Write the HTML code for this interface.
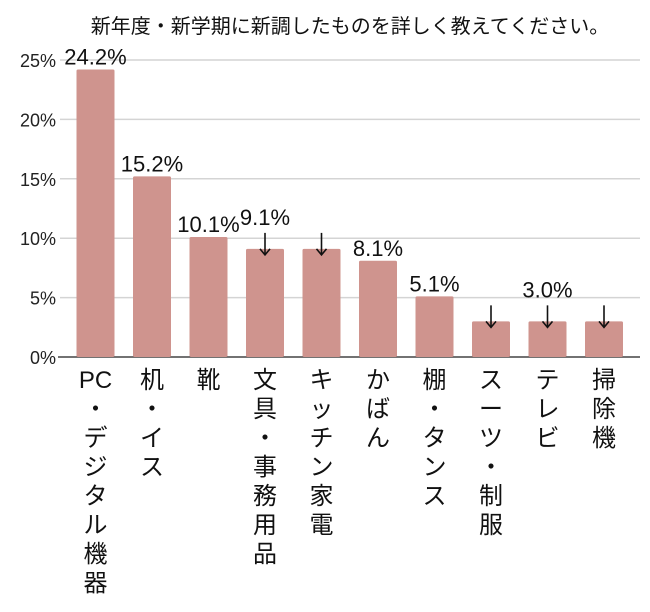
<!DOCTYPE html>
<html><head><meta charset="utf-8"><style>
body{margin:0;background:#fff;}
svg{display:block;font-family:"Liberation Sans","Noto Sans CJK JP",sans-serif;}
</style></head><body>
<svg id="chart" width="650" height="612" viewBox="0 0 650 612">
<text x="350" y="33" font-size="20" text-anchor="middle" fill="#111">新年度・新学期に新調したものを詳しく教えてください。</text>
<g id="grid"></g><g id="bars"></g><g id="labels"></g>
</svg>
<script>
const categories=["PC・デジタル機器","机・イス","靴","文具・事務用品","キッチン家電","かばん","棚・タンス","スーツ・制服","テレビ","掃除機"];
const values=[24.2,15.2,10.1,9.1,9.1,8.1,5.1,3.0,3.0,3.0];
const showLabel=[true,true,true,true,false,true,true,false,true,false];
const arrowFlags=[false,false,false,true,true,false,false,true,true,true];
const yTicks=[0,5,10,15,20,25];
const svg=document.getElementById('chart');
const NS='http://www.w3.org/2000/svg';
const y0=357,pxPer=59.4/5;
const y=v=>y0-v*pxPer;
const x=i=>95.5+i*56.5;
const bw=38;
function mk(t,a,p){const e=document.createElementNS(NS,t);for(const k in a)e.setAttribute(k,a[k]);p.appendChild(e);return e;}
const grid=document.getElementById('grid'),bars=document.getElementById('bars'),labels=document.getElementById('labels');
yTicks.forEach(t=>{
 if(t>0){const l=mk('line',{x1:60,x2:640,y1:y(t),y2:y(t),stroke:'#d4d4d4','stroke-width':1.5},grid);
 }
 const tx=mk('text',{x:56,y:y(t)+7,'font-size':18,'text-anchor':'end',fill:'#222'},grid);tx.textContent=t+'%';
 
});
const ax=mk('line',{x1:58,x2:640,y1:y0,y2:y0,stroke:'#444','stroke-width':1.5},grid);

values.forEach((v,i)=>{
 const r=mk('rect',{x:x(i)-bw/2,y:y(v),width:bw,height:y0-y(v),fill:'#cf948e',rx:1.5},bars);
 
 if(showLabel[i]){const t=mk('text',{x:x(i),y:y(v)-(arrowFlags[i]?24:5),'font-size':22,'text-anchor':'middle',fill:'#111'},labels);t.textContent=v.toFixed(1)+'%';
  }
 if(arrowFlags[i]){const g=mk('g',{stroke:'#111','stroke-width':1.6,fill:'none'},labels);
  
  mk('line',{x1:x(i),x2:x(i),y1:y(v)-16,y2:y(v)+6},g);
  mk('polyline',{points:`${x(i)-5},${y(v)} ${x(i)},${y(v)+6} ${x(i)+5},${y(v)}`},g);}
 let chars=Array.from(categories[i]);
 if(chars[0]==='P'&&chars[1]==='C'){chars=['PC'].concat(chars.slice(2));}
 const g=mk('g',{},labels);
 chars.forEach((c,j)=>{const t=mk('text',{x:x(i),y:388+j*29,'font-size':24,'text-anchor':'middle',fill:'#111'},g);t.textContent=c;});
});
</script>
</body></html>
